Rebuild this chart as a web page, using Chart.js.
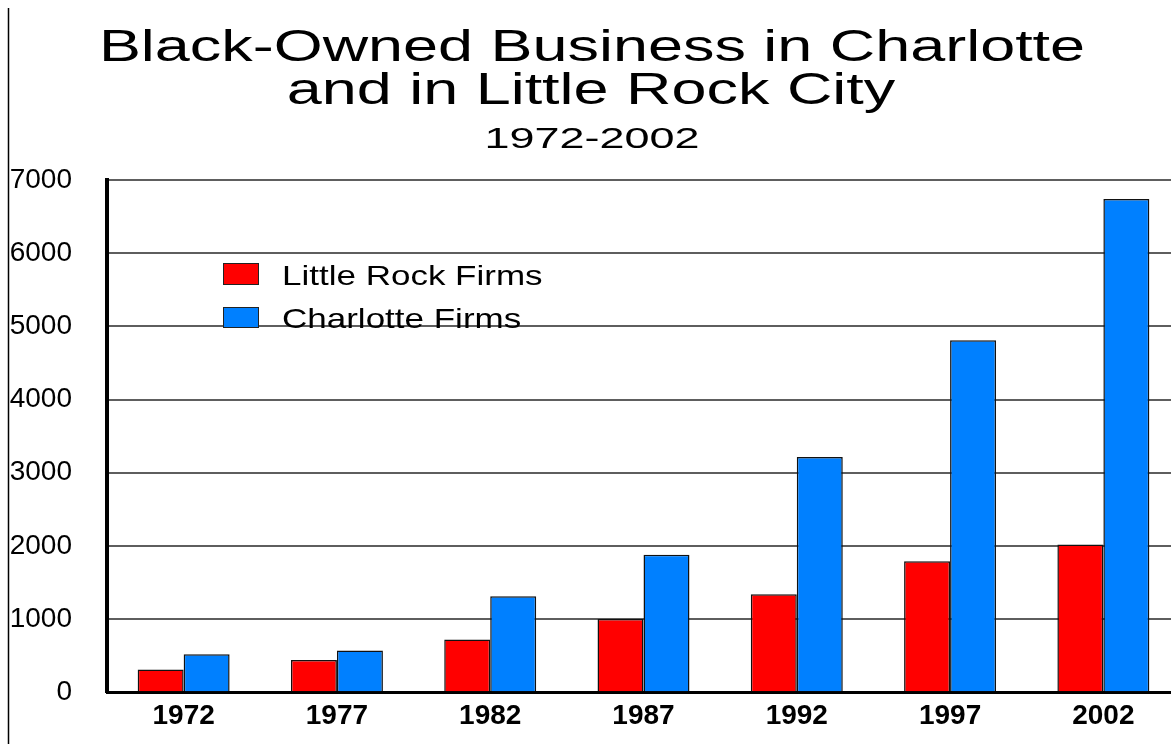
<!DOCTYPE html>
<html>
<head>
<meta charset="utf-8">
<title>Black-Owned Business in Charlotte and in Little Rock City</title>
<script src="https://cdn.jsdelivr.net/npm/chart.js@4.4.1/dist/chart.umd.min.js"></script>
<style>
  html, body { margin: 0; padding: 0; background: #fff; overflow: hidden; }
  canvas { display: block; }
</style>
</head>
<body>
<!-- Plotfläche ragt im Original rechts etwas über den Bildrand, daher 1180 breit -->
<canvas id="bizChart" width="1180" height="744"></canvas>
<script>
// ---- Daten ----
const years      = ["1972", "1977", "1982", "1987", "1992", "1997", "2002"];
const littleRock = [310, 440, 720, 1000, 1340, 1790, 2020];
const charlotte  = [520, 570, 1310, 1880, 3215, 4810, 6740];
const yTicks     = [0, 1000, 2000, 3000, 4000, 5000, 6000, 7000];

const titleLines = ["Black-Owned Business in Charlotte", "and in Little Rock City"];
const subTitle   = "1972-2002";

const FONT = "'Liberation Sans', Arial, sans-serif";

// Text horizontal gestreckt zeichnen (Original ist breit gezogen)
function stretchText(ctx, text, x, y, size, sx, align){
  ctx.save();
  ctx.font = `${size}px ${FONT}`;
  ctx.fillStyle = "#000";
  ctx.textAlign = align || "center";
  ctx.textBaseline = "alphabetic";
  ctx.translate(x, y);
  ctx.scale(sx, 1);
  ctx.fillText(text, 0, 0);
  ctx.restore();
}

// ---- Titel, Legende, Randlinie ----
const decor = {
  id: "decor",
  beforeDraw(chart){
    const ctx = chart.ctx;
    // linke senkrechte Linie
    ctx.save();
    ctx.strokeStyle = "#000";
    ctx.lineWidth = 1.5;
    ctx.beginPath();
    ctx.moveTo(8.5, 8);
    ctx.lineTo(8.5, 744);
    ctx.stroke();
    ctx.restore();

    stretchText(ctx, titleLines[0], 592, 61, 44, 1.43);
    stretchText(ctx, titleLines[1], 591, 104, 44, 1.43);
    stretchText(ctx, subTitle, 592, 148, 29, 1.55);
  },
  afterDatasetsDraw(chart){
    const ctx = chart.ctx;
    const rows = [{ top: 263, base: 285 }, { top: 307, base: 328 }];
    chart.data.datasets.forEach((ds, i) => {
      const r = rows[i];
      ctx.save();
      ctx.fillStyle = ds.backgroundColor;
      ctx.fillRect(223, r.top, 36, r.base - r.top);
      ctx.strokeStyle = "#222";
      ctx.lineWidth = 1;
      ctx.strokeRect(223.5, r.top + 0.5, 35, r.base - r.top - 1);
      ctx.restore();
      stretchText(ctx, ds.label, 282, r.base, 28, 1.25, "left");
    });
  }
};

new Chart(document.getElementById("bizChart"), {
  type: "bar",
  data: {
    labels: years,
    datasets: [
      { label: "Little Rock Firms", data: littleRock, backgroundColor: "#FF0000",
        borderColor: "#111", borderWidth: 1.5 },
      { label: "Charlotte Firms",   data: charlotte,  backgroundColor: "#0080FF",
        borderColor: "#111", borderWidth: 1.5 }
    ]
  },
  options: {
    responsive: false,
    animation: false,
    layout: { padding: { top: 180, right: 0, bottom: 0, left: 0 } },
    datasets: { bar: { categoryPercentage: 0.6, barPercentage: 1.0 } },
    plugins: {
      legend:  { display: false },
      title:   { display: false },
      tooltip: { enabled: false }
    },
    scales: {
      x: {
        grid: { display: false, drawTicks: false },
        border: { color: "#000", width: 3 },
        ticks: { color: "#000", padding: 7, font: { family: FONT, size: 28, weight: "bold" } },
        afterFit: (s) => { s.height = 50; }
      },
      y: {
        min: 0, max: 7000,
        afterBuildTicks: (s) => { s.ticks = yTicks.map(v => ({ value: v })); },
        grid: {
          drawTicks: false,
          lineWidth: 2,
          color: (c) => c.tick && c.tick.value === 0 ? "rgba(0,0,0,0)" : "#5e5e5e"
        },
        border: { color: "#000", width: 4 },
        ticks: {
          color: "#000", padding: 35,
          font: { family: FONT, size: 28 },
          callback: (v) => String(v)
        },
        afterFit: (s) => { s.width = 107; }
      }
    }
  },
  plugins: [decor]
});
</script>
</body>
</html>
